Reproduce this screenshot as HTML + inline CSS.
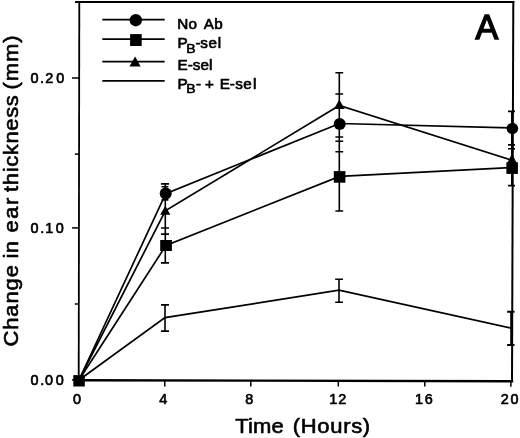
<!DOCTYPE html>
<html>
<head>
<meta charset="utf-8">
<title>Change in ear thickness</title>
<style>
html,body{margin:0;padding:0;background:#fff;}
body{width:520px;height:438px;overflow:hidden;}
svg{display:block;}
text{font-family:"Liberation Sans",sans-serif;fill:#000;stroke:#000;stroke-width:0.65px;stroke-linejoin:round;}
.tk{font-size:14.4px;}
.ax{font-size:20px;stroke-width:0.6px;}
.lg{font-size:14.4px;}
.sub{font-size:13.2px;}
.big{font-size:35.9px;stroke-width:1.5px;stroke-linejoin:miter;}
.ln{stroke:#000;stroke-width:1.7;fill:none;stroke-linecap:butt;stroke-linejoin:miter;}
.axl{stroke:#000;stroke-width:2;fill:none;stroke-linecap:square;}
.tick{stroke:#000;stroke-width:1.5;fill:none;}
.eb{stroke:#000;stroke-width:1.6;fill:none;}
.mk{fill:#000;stroke:none;}
</style>
</head>
<body>
<svg width="520" height="438" viewBox="0 0 520 438">
<rect x="0" y="0" width="520" height="438" fill="#fff"/>

<!-- axes frame -->
<g class="axl">
<line x1="76" y1="1.9" x2="513.3" y2="2.1"/>
<line x1="79.3" y1="2" x2="78.7" y2="380" stroke-width="1.8"/>
<line x1="513.3" y1="2" x2="512" y2="381"/>
<line x1="79" y1="380.3" x2="512" y2="381.2" stroke-width="2.4"/>
</g>

<!-- y ticks -->
<g class="tick">
<line x1="72" y1="78" x2="79" y2="78"/>
<line x1="72" y1="227.9" x2="79" y2="227.9"/>
<line x1="72" y1="379.9" x2="79" y2="379.9"/>
<line x1="74.8" y1="154.1" x2="79" y2="154.1"/>
<line x1="74.8" y1="304" x2="79" y2="304"/>
</g>
<!-- x ticks -->
<g class="tick">
<line x1="164.8" y1="380" x2="164.8" y2="386.5"/>
<line x1="250.8" y1="380" x2="250.8" y2="386.5"/>
<line x1="338.3" y1="380" x2="338.3" y2="386.5"/>
<line x1="424.8" y1="380" x2="424.8" y2="386.5"/>
<line x1="510.9" y1="380" x2="510.9" y2="386.8"/>
</g>

<!-- tick labels -->
<text class="tk" x="30.6 40 45.3 56.2" y="83.1">0.20</text>
<text class="tk" x="30.4 40.2 45.3 55.7" y="233.3">0.10</text>
<text class="tk" x="30.4 40.2 44.9 55.7" y="385.1">0.00</text>
<text class="tk" x="72.9" y="403.6">0</text>
<text class="tk" x="159.3" y="403.6">4</text>
<text class="tk" x="245.3" y="403.6">8</text>
<text class="tk" x="329.3 338.2" y="403.6">12</text>
<text class="tk" x="415.1 424.7" y="403.6">16</text>
<text class="tk" x="500.7 510.5" y="403.6">20</text>
<!-- axis titles -->
<text class="ax" transform="scale(1.1 1)" x="213.82 225.45 230.05 246.87 252.32 266.18 273.45 288.51 300.25 312 319.27 329.88" y="432.6">Time (Hours)</text>
<text class="ax" transform="translate(17.8 0) rotate(-90) scale(1.1 1)" x="-315.09 -299.83 -287.88 -275.94 -263.99 -252.04 -247.04 -235.09 -230.22 -225.22 -211.27 -198.87 -186.48 -181.48 -174.55 -168.42 -156.71 -151.69 -141.12 -130.54 -118.84 -107.13 -96.55 -91.55 -81.27 -73.8 -56.32 -38.84" y="0">Change in ear thickness (mm)</text>
<!-- panel letter -->
<text class="big" transform="translate(475.4 39.1) scale(0.95 1)">A</text>
<!-- legend -->
<g class="ln">
<line x1="102.3" y1="19.7" x2="164.7" y2="19.7"/>
<line x1="102.3" y1="39.1" x2="164.7" y2="39.1"/>
<line x1="102.3" y1="61.6" x2="164.7" y2="61.6"/>
<line x1="102.3" y1="80.8" x2="164.7" y2="80.8"/>
</g>
<circle class="mk" cx="135.8" cy="20.2" r="6.2"/>
<rect class="mk" x="130.1" y="34.1" width="11.6" height="11.9"/>
<polygon class="mk" points="135.1,56.6 140.6,66.6 129.5,66.6"/>
<text class="lg" transform="scale(1.06 1)" x="167.17 177.92 185.85 192.17 202.17" y="28.8">No Ab</text>
<text class="lg" transform="scale(1.06 1)"><tspan x="167.36" y="48.2">P</tspan><tspan class="sub" x="175.66" y="52.7">B</tspan><tspan x="184.53 188.96 196.6 205.38" y="48.2">-sel</tspan></text>
<text class="lg" transform="scale(1.06 1)" x="167.45 177.08 181.91 189.14 197.17" y="70.4">E-sel</text>
<text class="lg" transform="scale(1.06 1)"><tspan x="167.36" y="88.6">P</tspan><tspan class="sub" x="175.66" y="93.1">B</tspan><tspan x="184.81 189.53 193.4 201.89 207.26 216.79 221.89 229.43 238.68" y="88.6">- + E-sel</tspan></text>
<!-- data lines -->
<g class="ln">
<polyline points="79,380 165.7,193.6 339.6,123.5 512.2,128"/>
<polyline points="79,380 166,245.4 339.6,176.4 512.1,167.5"/>
<polyline points="79,380 165.3,210.8 339.3,105.5 512,160.3"/>
<polyline points="79,380 165,317.6 339,290.2 511,328.1"/>
</g>

<!-- error bars -->
<g class="eb">
<path d="M165.3,183.9V262.9 M161,183.9H169 M161.6,186.8H168.4 M161.6,199.9H168.4 M161,228H169 M161,234.1H169 M161,262.9H169"/>
<path d="M165,304.9V331.1 M161,304.9H169 M161,331.1H169"/>
<path d="M339.3,72.8V211 M335.4,72.8H343.2 M335.4,94H343.2 M335.4,137H343.2 M335.4,141.2H343.2 M335.4,151.8H343.2 M335.4,211H343.2"/>
<path d="M339,279.2V302.3 M335.2,279.2H343 M335.2,302.3H343"/>
<path d="M511.8,111.4V185.6 M508,111.4H515 M508,144.9H515 M508,148.7H515 M508,185.6H515"/>
<path d="M511.2,311.8V345.1 M507.1,311.8H514.5 M507.1,345.1H514.5" stroke-width="2"/>
</g>

<!-- markers -->
<g class="mk">
<rect x="73.3" y="375.1" width="11.5" height="11.4"/>
<circle cx="165.7" cy="193.6" r="6"/>
<polygon points="165.3,205.8 170.4,214.8 160.2,214.8"/>
<rect x="160.2" y="240" width="11.7" height="11"/>
<polygon points="339.3,99.4 344.6,109.1 334.0,109.1"/>
<circle cx="339.7" cy="124" r="6"/>
<rect x="333.8" y="171.1" width="11.6" height="11.6"/>
<circle cx="512.4" cy="128.5" r="5.8"/>
<polygon points="512,153.6 517.4,164.4 506.6,164.4"/>
<rect x="506.4" y="162.2" width="11.5" height="11.7"/>
</g>
</svg>
</body>
</html>
